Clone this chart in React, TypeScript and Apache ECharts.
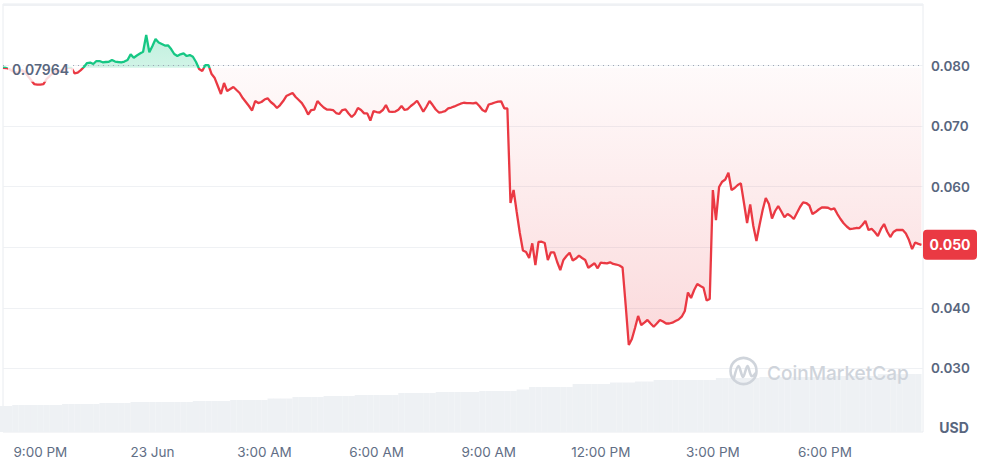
import React, { useEffect, useRef } from "react";
import * as echarts from "echarts";

const BASE_PRICE = 0.07964;
const START_HOUR = 20; // 22 Jun 20:00, hours counted from 22 Jun 00:00
const PRICE_STEP_HOURS = 1 / 12; // 5 minutes
const VOLUME_STEP_HOURS = 1 / 6; // 10 minutes
const X_MAX_HOUR = 44.625;

const prices = [
  0.07964, 0.0796, 0.07943, 0.0791, 0.07893, 0.07877, 0.07926, 0.07893, 0.07827, 0.07761,
  0.07695, 0.07687, 0.07687, 0.07695, 0.07778, 0.07827, 0.07877, 0.0791, 0.0791, 0.07926,
  0.07943, 0.07968, 0.0796, 0.07872, 0.07885, 0.07926, 0.07976, 0.08042, 0.0805, 0.08026,
  0.08075, 0.08075, 0.08054, 0.08059, 0.08062, 0.08092, 0.08067, 0.08059, 0.08054, 0.08067,
  0.08092, 0.08185, 0.0813, 0.08166, 0.08199, 0.08229, 0.08505, 0.08219, 0.08323, 0.08438,
  0.08381, 0.08356, 0.08331, 0.08334, 0.08273, 0.08191, 0.08158, 0.08186, 0.08202, 0.08158,
  0.08174, 0.08146, 0.08059, 0.07943, 0.0791, 0.08009, 0.08009, 0.0786, 0.07794, 0.07662,
  0.0753, 0.07712, 0.0758, 0.07613, 0.07646, 0.07596, 0.07547, 0.07464, 0.07398, 0.07332,
  0.07258, 0.07414, 0.07381, 0.07398, 0.07439, 0.07459, 0.07398, 0.07357, 0.07299, 0.07348,
  0.07414, 0.07497, 0.07522, 0.07547, 0.07481, 0.07431, 0.07381, 0.07299, 0.07192, 0.07266,
  0.07274, 0.07414, 0.07357, 0.07307, 0.07274, 0.07274, 0.07266, 0.07216, 0.072, 0.07266,
  0.07277, 0.07208, 0.0715, 0.072, 0.07299, 0.07266, 0.07211, 0.07211, 0.07092, 0.07249,
  0.07233, 0.07225, 0.07266, 0.07348, 0.07241, 0.07236, 0.07241, 0.07271, 0.07332, 0.07266,
  0.07282, 0.07332, 0.07373, 0.07419, 0.07332, 0.07238, 0.0732, 0.07414, 0.07348, 0.07274,
  0.07225, 0.07233, 0.07249, 0.07294, 0.07307, 0.07325, 0.07348, 0.0737, 0.07386, 0.07381,
  0.07381, 0.07377, 0.07386, 0.07332, 0.07266, 0.07238, 0.07357, 0.07373, 0.0739, 0.07406,
  0.0741, 0.07294, 0.07291, 0.0573, 0.05945, 0.05581, 0.05234, 0.04946, 0.04921, 0.04822,
  0.05064, 0.04706, 0.05086, 0.05091, 0.05069, 0.04789, 0.04916, 0.04916, 0.04756, 0.04623,
  0.04789, 0.04855, 0.04909, 0.0478, 0.04813, 0.0486, 0.04822, 0.04789, 0.04661, 0.04698,
  0.04734, 0.04652, 0.04747, 0.04739, 0.04734, 0.04751, 0.04723, 0.04714, 0.04698, 0.04665,
  0.04045, 0.03385, 0.03484, 0.03666, 0.03864, 0.03715, 0.03756, 0.03798, 0.0374, 0.03687,
  0.0374, 0.03798, 0.03773, 0.0374, 0.0374, 0.03753, 0.03781, 0.03806, 0.03852, 0.03946,
  0.04252, 0.04161, 0.04293, 0.04392, 0.04359, 0.04331, 0.0412, 0.04144, 0.05945, 0.05449,
  0.05994, 0.06082, 0.06118, 0.0623, 0.05945, 0.05978, 0.06027, 0.06055, 0.0573, 0.054,
  0.05705, 0.0535, 0.05102, 0.05367, 0.05614, 0.05813, 0.05713, 0.05474, 0.05598, 0.0568,
  0.0559, 0.05494, 0.05548, 0.05515, 0.05466, 0.05565, 0.05664, 0.05742, 0.0573, 0.05689,
  0.05548, 0.05581, 0.05623, 0.05656, 0.05656, 0.05652, 0.05623, 0.05642, 0.05548, 0.05466,
  0.05395, 0.05342, 0.05301, 0.05307, 0.05317, 0.05314, 0.05367, 0.05433, 0.05284, 0.05304,
  0.05251, 0.05185, 0.05301, 0.05383, 0.05259, 0.05168, 0.05251, 0.05284, 0.05284, 0.05284,
  0.05226, 0.05119, 0.0497, 0.05078, 0.05055, 0.0504,
];

const volumes = [
  13, 13,
  13.5, 13.5, 13.5, 13.5, 13.5, 13.5, 13.5, 13.5,
  14, 14, 14, 14, 14, 14,
  14.5, 14.5, 14.5, 14.5, 14.5,
  15, 15, 15, 15, 15, 15, 15, 15, 15, 15,
  15.5, 15.5, 15.5, 15.5, 15.5, 15.5,
  16, 16, 16, 16, 16, 16,
  16.75, 16.75, 16.75, 16.75,
  17.5, 17.5, 17.5, 17.5, 17.5,
  18, 18, 18, 18, 18,
  18.5, 18.5, 18.5, 18.5, 18.5, 18.5, 18.5,
  19.5, 19.5, 19.5, 19.5, 19.5, 19.5,
  20, 20, 20, 20, 20, 20, 20,
  20.5, 20.5, 20.5, 20.5, 20.5, 20.5,
  21.25, 21.25,
  22.5, 22.5, 22.5, 22.5, 22.5, 22.5, 22.5,
  24, 24, 24, 24, 24, 24,
  24.75, 24.75, 24.75, 24.75,
  25.25, 25.25, 25.25,
  26, 26, 26, 26, 26, 26, 26, 26, 26, 26,
  27, 27, 27, 27, 27, 27, 27,
  27.5, 27.5, 27.5, 27.5, 27.5, 27.5, 27.5, 27.5, 27.5, 27.5, 27.5,
  28, 28, 28, 28, 28, 28, 28, 28,
  29, 29, 29, 29, 29, 29, 29,
];

const xTickHours = [21, 24, 27, 30, 33, 36, 39, 42];
const xTickLabels = ["9:00 PM", "23 Jun", "3:00 AM", "6:00 AM", "9:00 AM", "12:00 PM", "3:00 PM", "6:00 PM"];
const yTickValues = [0.03, 0.04, 0.05, 0.06, 0.07, 0.08];

const GREEN = "#16c784";
const RED = "#ea3943";
const LABEL = "#58667e";
const FONT = "Inter, 'Noto Sans', sans-serif";

export default function App() {
  const ref = useRef<HTMLDivElement>(null);

  useEffect(() => {
    document.body.style.margin = "0";
    const chart = echarts.init(ref.current!, null, { renderer: "svg" });

    const times = prices.map((_, i) => START_HOUR + i * PRICE_STEP_HOURS);
    const lineData = prices.map((p, i) => [times[i], p]);
    const redData = prices.map((p, i) => [times[i], Math.min(p, BASE_PRICE)]);
    const greenData = prices.map((p, i) => [times[i], Math.max(p, BASE_PRICE)]);
    const volData = volumes.map((v, i) => [START_HOUR + i * VOLUME_STEP_HOURS, v]);
    const last = prices[prices.length - 1];

    const maxP = Math.max(...prices);
    const minP = Math.min(...prices);
    const f = (maxP - BASE_PRICE) / (maxP - minP);
    const lineGradient = new echarts.graphic.LinearGradient(0, 0, 0, 1, [
      { offset: 0, color: GREEN },
      { offset: f, color: GREEN },
      { offset: f, color: RED },
      { offset: 1, color: RED },
    ]);

    chart.setOption({
      animation: false,
      textStyle: { fontFamily: FONT },
      grid: [
        { left: 3, right: 59, top: 4, bottom: 96.7, containLabel: false },
        {
          left: 3, right: 59, top: 4, bottom: 33, containLabel: false,
          show: true, borderColor: "#e9ecf0", borderWidth: 1, backgroundColor: "transparent",
        },
      ],
      xAxis: [
        {
          type: "value", gridIndex: 0, min: START_HOUR, max: X_MAX_HOUR,
          show: false, splitLine: { show: false },
        },
        {
          type: "value", gridIndex: 1, min: START_HOUR, max: X_MAX_HOUR, interval: 1,
          axisLine: { show: false }, axisTick: { show: false }, splitLine: { show: false },
          axisLabel: {
            margin: 13,
            color: "#616e85",
            fontSize: 13.5,
            fontFamily: FONT,
            formatter: (v: number) => {
              const idx = xTickHours.findIndex((h) => Math.abs(h - v) < 1e-6);
              return idx >= 0 ? xTickLabels[idx] : "";
            },
          },
        },
      ],
      yAxis: [
        {
          type: "value", gridIndex: 0, position: "right", min: 0.03, max: 0.09017, interval: 0.01,
          axisLine: { show: false }, axisTick: { show: false },
          splitLine: { show: true, lineStyle: { color: "#eff1f4", width: 1 } },
          axisLabel: {
            margin: 8,
            color: LABEL,
            fontSize: 13.5,
            fontWeight: 600,
            fontFamily: FONT,
            formatter: (v: number) => {
              const t = yTickValues.find((y) => Math.abs(y - v) < 1e-6);
              if (t === undefined) return "";
              // the current-price badge covers the tick label next to it
              if (Math.abs(t - last) < 0.003) return "";
              return t.toFixed(3);
            },
          },
        },
        {
          type: "value", gridIndex: 1, min: 0, max: 214, show: false, splitLine: { show: false },
        },
      ],
      series: [
        {
          type: "bar",
          xAxisIndex: 1,
          yAxisIndex: 1,
          data: volData,
          barWidth: 6.4,
          itemStyle: { color: "#eef1f4" },
          silent: true,
          z: 1,
        },
        {
          type: "line",
          xAxisIndex: 0,
          yAxisIndex: 0,
          data: redData,
          symbol: "none",
          silent: true,
          lineStyle: { width: 0, opacity: 0 },
          areaStyle: {
            origin: BASE_PRICE,
            color: new echarts.graphic.LinearGradient(0, 0, 0, 1, [
              { offset: 0, color: "rgba(234,57,67,0.035)" },
              { offset: 1, color: "rgba(234,57,67,0.27)" },
            ]),
          },
          z: 2,
        },
        {
          type: "line",
          xAxisIndex: 0,
          yAxisIndex: 0,
          data: greenData,
          symbol: "none",
          silent: true,
          lineStyle: { width: 0, opacity: 0 },
          areaStyle: {
            origin: BASE_PRICE,
            color: new echarts.graphic.LinearGradient(0, 0, 0, 1, [
              { offset: 0, color: "rgba(22,199,132,0.38)" },
              { offset: 1, color: "rgba(22,199,132,0.28)" },
            ]),
          },
          z: 2,
        },
        {
          type: "line",
          xAxisIndex: 0,
          yAxisIndex: 0,
          data: lineData,
          symbol: "none",
          lineStyle: { width: 2.3, color: lineGradient },
          itemStyle: { color: RED },
          z: 5,
          markLine: {
            silent: true,
            symbol: ["none", "none"],
            label: { show: false },
            lineStyle: { type: [1, 4], color: "#9ea7b6", width: 1 },
            data: [{ yAxis: BASE_PRICE }],
          },
        },
      ],
    });

    const baseY = chart.convertToPixel({ yAxisIndex: 0 }, BASE_PRICE) as number;
    const lastY = chart.convertToPixel({ yAxisIndex: 0 }, last) as number;

    chart.setOption({
      graphic: [
        {
          type: "text",
          x: 8,
          y: baseY + 2,
          z: 100,
          style: {
            text: BASE_PRICE.toFixed(5),
            fill: LABEL,
            font: `600 14px ${FONT}`,
            verticalAlign: "middle",
            backgroundColor: "rgba(255,255,255,0.82)",
            padding: [5, 4],
          },
        },
        {
          type: "rect",
          z: 100,
          shape: { x: 923, y: lastY - 15, width: 54, height: 30, r: 4 },
          style: { fill: RED },
        },
        {
          type: "text",
          z: 101,
          x: 950,
          y: lastY,
          style: {
            text: last.toFixed(3),
            fill: "#ffffff",
            font: `700 14px ${FONT}`,
            align: "center",
            verticalAlign: "middle",
          },
        },
        {
          type: "text",
          z: 100,
          x: 954,
          y: 427,
          style: {
            text: "USD",
            fill: LABEL,
            font: `700 14px ${FONT}`,
            align: "center",
            verticalAlign: "middle",
          },
        },
        {
          type: "circle",
          z: 50,
          shape: { cx: 743.5, cy: 371, r: 13 },
          style: { fill: "none", stroke: "#cfd4db", lineWidth: 2.6 },
        },
        {
          type: "polyline",
          z: 50,
          shape: {
            points: [[734, 378], [738.5, 366], [743, 377], [747.5, 366], [751.5, 376], [756, 373]],
            smooth: 0.35,
          },
          style: { fill: "none", stroke: "#cfd4db", lineWidth: 2.6, lineCap: "round", lineJoin: "round" },
        },
        {
          type: "text",
          z: 50,
          x: 767,
          y: 373,
          style: {
            text: "CoinMarketCap",
            fill: "#cfd4db",
            font: `500 19px ${FONT}`,
            verticalAlign: "middle",
          },
        },
      ],
    });

    return () => chart.dispose();
  }, []);

  return <div ref={ref} style={{ width: 982, height: 465 }} />;
}
